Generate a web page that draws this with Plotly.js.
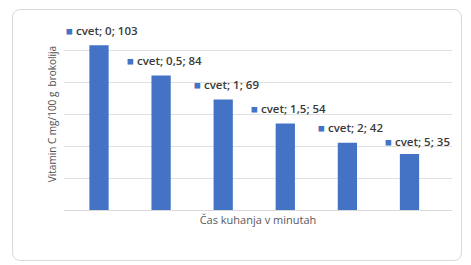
<!DOCTYPE html>
<html>
<head>
<meta charset="utf-8">
<script src="https://cdn.plot.ly/plotly-3.0.1.min.js"></script>
<style>
html,body{margin:0;padding:0;background:#ffffff;}
#wrap{position:relative;width:471px;height:265px;}
#frame{position:absolute;left:12px;top:9px;width:450px;height:252px;border:1px solid #d9d9d9;border-radius:8px;box-sizing:border-box;}
#chart{position:absolute;left:0;top:0;width:471px;height:265px;}
</style>
</head>
<body>
<div id="wrap"><div id="frame"></div><div id="chart"></div></div>
<script>
const seriesName = "cvet";
const categories = ["0", "0,5", "1", "1,5", "2", "5"];
const values = [103, 84, 69, 54, 42, 35];
const yTitle = "Vitamin C mg/100 g  brokolija";
const xTitle = "Čas kuhanja v minutah";

const barColor = "#4472C4";

const annotations = categories.map((c, i) => ({
  x: i, y: values[i], xref: "x", yref: "y",
  text: "<span style='color:" + barColor + "'>■</span> " + seriesName + "; " + c + "; " + values[i],
  showarrow: false,
  yshift: i === categories.length - 1 ? 13 : 15,
  xshift: i === categories.length - 1 ? 8 : 3,
  font: {family: "Open Sans, Liberation Sans, sans-serif", size: 11.5, color: "#3a3a3a", weight: 600}
}));

Plotly.newPlot("chart", [{
  type: "bar",
  x: categories,
  y: values,
  marker: {color: barColor},
  width: 0.31,
  hoverinfo: "none"
}], {
  width: 471, height: 265,
  margin: {l: 64, r: 19, t: 18, b: 55},
  paper_bgcolor: "rgba(0,0,0,0)",
  plot_bgcolor: "rgba(0,0,0,0)",
  showlegend: false,
  xaxis: {
    type: "category",
    showticklabels: false, ticks: "",
    showgrid: false, zeroline: false, showline: false,
    title: {text: xTitle, standoff: 6, font: {family: "Open Sans, Liberation Sans, sans-serif", size: 11, color: "#595959"}}
  },
  yaxis: {
    range: [0, 120], dtick: 20,
    showticklabels: false, ticks: "",
    showgrid: true, gridcolor: "#e0e0e0", gridwidth: 1,
    zeroline: true, zerolinecolor: "#d9d9d9", showline: false,
    title: {text: yTitle, standoff: 4, font: {family: "Open Sans, Liberation Sans, sans-serif", size: 10, color: "#505050"}}
  },
  annotations: annotations
}, {displayModeBar: false, staticPlot: true});
</script>
</body>
</html>
